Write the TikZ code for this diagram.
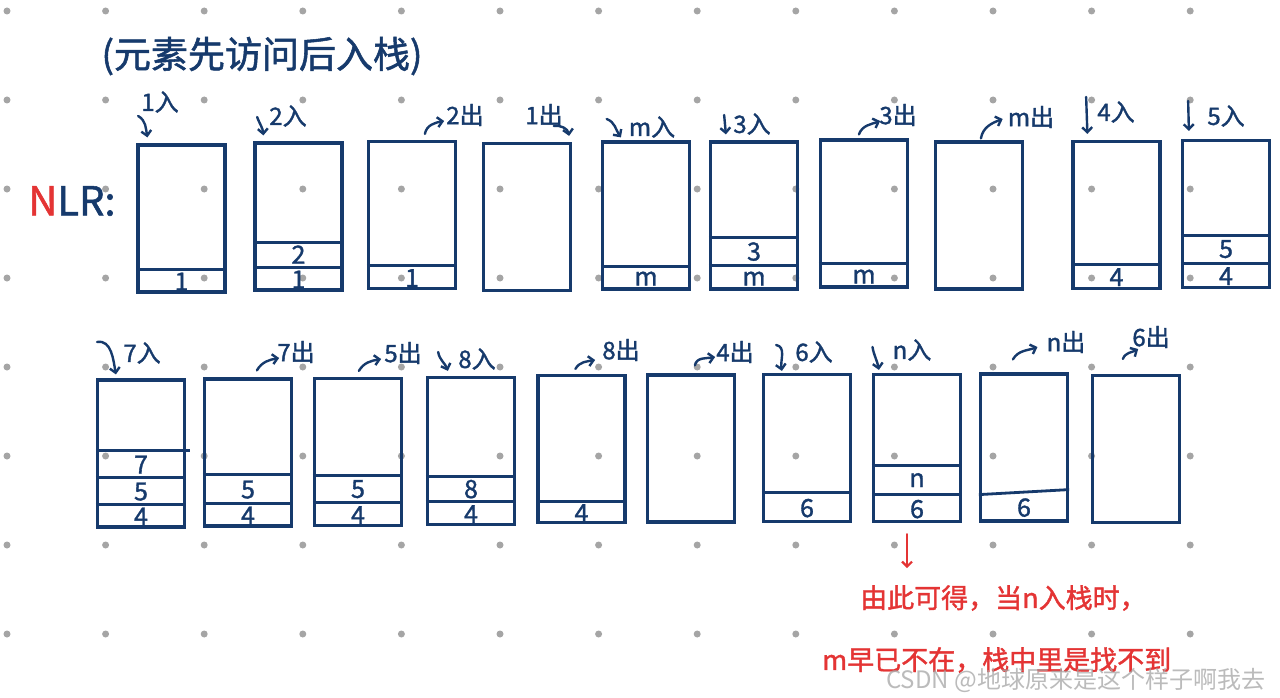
\documentclass[tikz,border=0pt]{standalone}
\usepackage{fontspec}
\usepackage{tikz}
\usetikzlibrary{arrows.meta}
\newfontfamily\hand[FakeBold=1.4]{Noto Sans CJK SC}
\newfontfamily\plainhand{Noto Sans CJK SC}
\definecolor{navy}{RGB}{22,58,108}
\definecolor{pen}{RGB}{228,52,52}
\definecolor{dotgray}{RGB}{165,165,165}

\begin{document}
\begin{tikzpicture}[x=1pt, y=-1pt, >={Straight Barb[length=5pt,width=10pt]},
  stk/.style={draw=navy, line width=3.2pt, minimum width=87pt, minimum height=147pt, inner sep=0pt},
  bar/.style={draw=navy, line width=2.8pt},
  num/.style={text=navy, font=\hand\fontsize{25}{25}\selectfont, inner sep=0pt},
  lbl/.style={text=navy, font=\hand\fontsize{24}{24}\selectfont, inner sep=0pt},
  tip/.style={->, draw=navy, line width=2.4pt, line cap=round},
  note/.style={text=pen, font=\hand\fontsize{27}{27}\selectfont, inner sep=0pt, anchor=west},
  redtip/.style={->, draw=pen, line width=2.2pt, line cap=round}]
\useasboundingbox (0,0) rectangle (1280,698);
\fill[white] (0,0) rectangle (1280,698);
% dot grid of the paper
\foreach \i in {0,...,12}{\foreach \j in {0,...,7}{\fill[dotgray] ({7+98.6*\i},{11+89*\j}) circle[radius=3.5pt];}}

\node[text=navy, font=\hand\fontsize{37}{37}\selectfont] (head) at (262,56) {(元素先访问后入栈)};
\node[text=navy, font=\hand\fontsize{40}{40}\selectfont, inner sep=0pt] (nlr) at (72,201) {\textcolor{pen}{N}LR:};

% first row
\node[stk] (s1) at (181.5,218.5) {};
\node[stk] (s2) at (298.5,216.5) {};
\node[stk] (s3) at (412,215) {};
\node[stk] (s4) at (527,217) {};
\node[stk] (s5) at (646,215.5) {};
\node[stk] (s6) at (754,215.5) {};
\node[stk] (s7) at (864,213.5) {};
\node[stk] (s8) at (979,215.5) {};
\node[stk] (s9) at (1116.5,215) {};
\node[stk] (s10) at (1226,214) {};

\draw[bar] ([yshift=24pt]s1.south west) -- ([yshift=24pt]s1.south east);
\node[num] (s1a) at ([yshift=12pt]s1.south) {1};
\draw[bar] ([yshift=24pt]s2.south west) -- ([yshift=24pt]s2.south east);
\draw[bar] ([yshift=49pt]s2.south west) -- ([yshift=49pt]s2.south east);
\node[num] (s2a) at ([yshift=12pt]s2.south) {1};
\node[num] (s2b) at ([yshift=37pt]s2.south) {2};
\draw[bar] ([yshift=25pt]s3.south west) -- ([yshift=25pt]s3.south east);
\node[num] (s3a) at ([yshift=12pt]s3.south) {1};
\draw[bar] ([yshift=24pt]s5.south west) -- ([yshift=24pt]s5.south east);
\node[num] (s5a) at ([yshift=12pt]s5.south) {m};
\draw[bar] ([yshift=25pt]s6.south west) -- ([yshift=25pt]s6.south east);
\draw[bar] ([yshift=53pt]s6.south west) -- ([yshift=53pt]s6.south east);
\node[num] (s6a) at ([yshift=12pt]s6.south) {m};
\node[num] (s6b) at ([yshift=39pt]s6.south) {3};
\draw[bar] ([yshift=25pt]s7.south west) -- ([yshift=25pt]s7.south east);
\node[num] (s7a) at ([yshift=12pt]s7.south) {m};
\draw[bar] ([yshift=26pt]s9.south west) -- ([yshift=26pt]s9.south east);
\node[num] (s9a) at ([yshift=13pt]s9.south) {4};
\draw[bar] ([yshift=26pt]s10.south west) -- ([yshift=26pt]s10.south east);
\draw[bar] ([yshift=54pt]s10.south west) -- ([yshift=54pt]s10.south east);
\node[num] (s10a) at ([yshift=13pt]s10.south) {4};
\node[num] (s10b) at ([yshift=40pt]s10.south) {5};

\node[lbl] (a1) at (160,102) {1入};
\node[lbl] (a2) at (288,116) {2入};
\node[lbl] (a3) at (465,115) {2出};
\node[lbl] (a4) at (544,115) {1出};
\node[lbl] (a5) at (652,127) {m入};
\node[lbl] (a6) at (752,124) {3入};
\node[lbl] (a7) at (898,115) {3出};
\node[lbl] (a8) at (1031,117) {m出};
\node[lbl] (a9) at (1116,112) {4入};
\node[lbl] (a10) at (1226,116) {5入};
\draw[tip] ([shift={(-3pt,-14pt)}]a1.west) to[out=-30,in=100] ([shift={(11pt,6pt)}]s1.north west);
\draw[tip] ([shift={(-12pt,-1pt)}]a2.west) to[out=-70,in=95] ([shift={(10pt,6pt)}]s2.north west);
\draw[tip] ([shift={(58pt,6pt)}]s3.north west) to[out=80,in=190] ([shift={(-2pt,-6pt)}]a3.west);
\draw[tip] ([shift={(-9pt,-11pt)}]a4.east) to[out=10,in=100] ([shift={(-3pt,6pt)}]s4.north east);
\draw[tip] ([shift={(-22pt,8pt)}]a5.west) to[out=-20,in=125] ([shift={(20pt,3pt)}]s5.north west);
\draw[tip] ([shift={(-9pt,9pt)}]a6.west) -- ([shift={(17pt,6pt)}]s6.north west);
\draw[tip] ([shift={(40pt,4pt)}]s7.north west) to[out=70,in=200] ([shift={(1pt,-6pt)}]a7.west);
\draw[tip] ([shift={(47pt,2pt)}]s8.north west) to[out=80,in=200] ([shift={(-5pt,-2pt)}]a8.west);
\draw[tip] ([shift={(-11pt,15pt)}]a9.west) -- ([shift={(16pt,6pt)}]s9.north west);
\draw[tip] ([shift={(-19pt,15pt)}]a10.west) -- ([shift={(8pt,8pt)}]s10.north west);

% second row
\node[stk] (t1) at (141,453.5) {};
\node[stk] (t2) at (248,452.5) {};
\node[stk] (t3) at (358,452) {};
\node[stk] (t4) at (471,451) {};
\node[stk] (t5) at (581.5,449) {};
\node[stk] (t6) at (691,448.5) {};
\node[stk] (t7) at (807,448) {};
\node[stk] (t8) at (917,448) {};
\node[stk] (t9) at (1024,447.5) {};
\node[stk] (t10) at (1136,449) {};

\draw[bar] ([yshift=24pt]t1.south west) -- ([yshift=24pt]t1.south east);
\draw[bar] ([yshift=51pt]t1.south west) -- ([yshift=51pt]t1.south east);
\draw[bar] ([yshift=78pt]t1.south west) -- ([shift={(4pt,78pt)}]t1.south east);
\node[num] (t1a) at ([yshift=12pt]t1.south) {4};
\node[num] (t1b) at ([yshift=37pt]t1.south) {5};
\node[num] (t1c) at ([yshift=64pt]t1.south) {7};
\draw[bar] ([yshift=24pt]t2.south west) -- ([yshift=24pt]t2.south east);
\draw[bar] ([yshift=53pt]t2.south west) -- ([yshift=53pt]t2.south east);
\node[num] (t2a) at ([yshift=12pt]t2.south) {4};
\node[num] (t2b) at ([yshift=38pt]t2.south) {5};
\draw[bar] ([yshift=25pt]t3.south west) -- ([yshift=25pt]t3.south east);
\draw[bar] ([yshift=52pt]t3.south west) -- ([yshift=52pt]t3.south east);
\node[num] (t3a) at ([yshift=12pt]t3.south) {4};
\node[num] (t3b) at ([yshift=38pt]t3.south) {5};
\draw[bar] ([yshift=25pt]t4.south west) -- ([yshift=25pt]t4.south east);
\draw[bar] ([yshift=50pt]t4.south west) -- ([yshift=50pt]t4.south east);
\node[num] (t4a) at ([yshift=12pt]t4.south) {4};
\node[num] (t4b) at ([yshift=37pt]t4.south) {8};
\draw[bar] ([yshift=23pt]t5.south west) -- ([yshift=23pt]t5.south east);
\node[num] (t5a) at ([yshift=11pt]t5.south) {4};
\draw[bar] ([yshift=31pt]t7.south west) -- ([yshift=31pt]t7.south east);
\node[num] (t7a) at ([yshift=15pt]t7.south) {6};
\draw[bar] ([yshift=29pt]t8.south west) -- ([yshift=29pt]t8.south east);
\draw[bar] ([yshift=58pt]t8.south west) -- ([yshift=58pt]t8.south east);
\node[num] (t8a) at ([yshift=14pt]t8.south) {6};
\node[num] (t8b) at ([yshift=43pt]t8.south) {n};
\draw[bar] ([yshift=28pt]t9.south west) -- ([yshift=33pt]t9.south east);
\node[num] (t9a) at ([yshift=15pt]t9.south) {6};

\node[lbl] (b1) at (142,353) {7入};
\node[lbl] (b2) at (296,352) {7出};
\node[lbl] (b3) at (403,353) {5出};
\node[lbl] (b4) at (477,359) {8入};
\node[lbl] (b5) at (621,350) {8出};
\node[lbl] (b6) at (735,352) {4出};
\node[lbl] (b7) at (814,352) {6入};
\node[lbl] (b8) at (912,350) {n入};
\node[lbl] (b9) at (1066,342) {n出};
\node[lbl] (b10) at (1151,337) {6出};
\draw[tip] ([shift={(-26pt,11pt)}]b1.west) to[out=10,in=100] ([shift={(20pt,4pt)}]t1.north west);
\draw[tip] ([shift={(54pt,7pt)}]t2.north west) to[out=60,in=190] ([shift={(2pt,-6pt)}]b2.west);
\draw[tip] ([shift={(46pt,6pt)}]t3.north west) to[out=60,in=190] ([shift={(-3pt,-6pt)}]b3.west);
\draw[tip] ([shift={(-20pt,7pt)}]b4.west) to[out=-80,in=110] ([shift={(22pt,5pt)}]t4.north west);
\draw[tip] ([shift={(39pt,5pt)}]t5.north west) to[out=60,in=190] ([shift={(-7pt,-10pt)}]b5.west);
\draw[tip] ([shift={(49pt,8pt)}]t6.north west) to[out=80,in=190] ([shift={(-1pt,-5pt)}]b6.west);
\draw[tip] ([shift={(-19pt,7pt)}]b7.west) to[out=-10,in=100] ([shift={(20pt,2pt)}]t7.north west);
\draw[tip] ([shift={(-20pt,3pt)}]b8.west) to[out=-80,in=100] ([shift={(7pt,3pt)}]t8.north west);
\draw[tip] ([shift={(34pt,13pt)}]t9.north west) to[out=60,in=200] ([shift={(-9pt,-5pt)}]b9.west);
\draw[tip] ([shift={(32pt,15pt)}]t10.north west) to[out=70,in=210] ([shift={(6pt,-12pt)}]b10.west);

% conclusion in red
\draw[redtip] ([shift={(-10pt,-11pt)}]t8.south) -- ++(0,34);
\node[note] (n1) at (860,598) {由此可得，当n入栈时，};
\node[note] (n2) at (822,660) {m早已不在，栈中里是找不到};
\node[text=dotgray, opacity=0.75, font=\plainhand\fontsize{24}{24}\selectfont, inner sep=0pt, anchor=west] (wm) at (886,680) {CSDN @地球原来是这个样子啊我去};
\end{tikzpicture}
\end{document}
